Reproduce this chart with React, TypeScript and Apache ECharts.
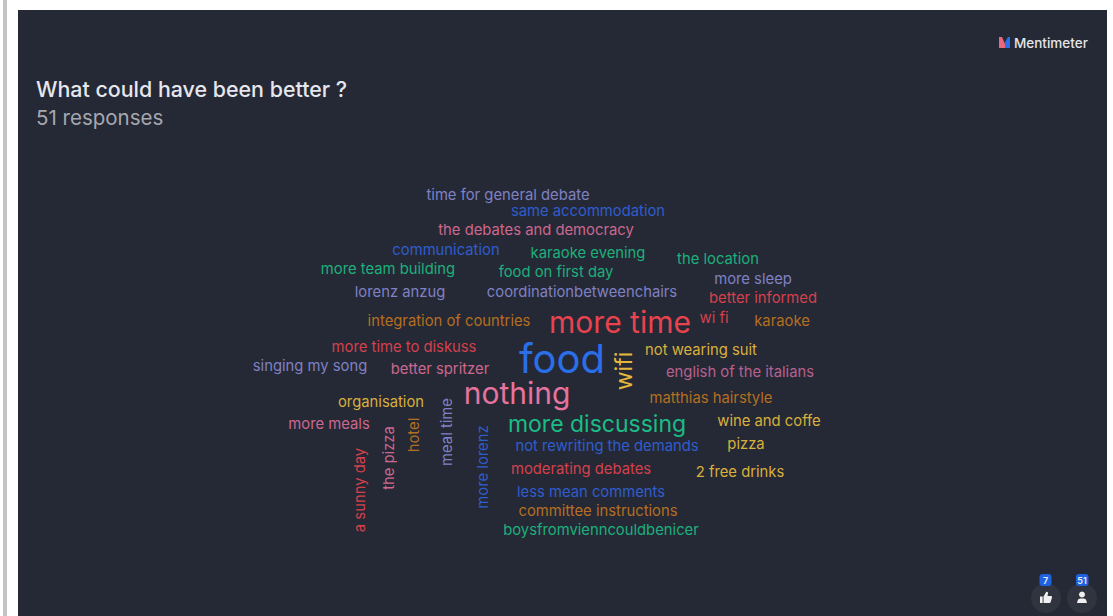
import React, { useEffect, useRef } from "react";
import * as echarts from "echarts";

const FONT = "Inter";
const WIDTH = 1113;
const HEIGHT = 616;

const words = [
  "time for general debate", "same accommodation", "the debates and democracy", "communication",
  "karaoke evening", "the location", "more team building", "food on first day", "more sleep",
  "lorenz anzug", "coordinationbetweenchairs", "better informed", "integration of countries",
  "more time", "wi fi", "karaoke", "more time to diskuss", "food", "wifi", "not wearing suit",
  "singing my song", "better spritzer", "english of the italians", "nothing", "organisation",
  "matthias hairstyle", "meal time", "more meals", "hotel", "the pizza", "wine and coffe",
  "more discussing", "not rewriting the demands", "pizza", "a sunny day", "more lorenz",
  "moderating debates", "2 free drinks", "less mean comments", "committee instructions",
  "boysfromvienncouldbenicer",
];
const weights = [
  1, 1, 1, 1, 1, 1, 1, 1, 1, 1, 1, 1, 1, 3, 1, 1, 1, 4, 2, 1, 1, 1, 1, 3, 1, 1, 1, 1, 1, 1, 1, 2, 1, 1,
  1, 1, 1, 1, 1, 1, 1,
];
const cloudX = [
  508, 588, 536, 446, 588, 718, 388, 556, 753, 400, 582, 763, 449, 620, 714, 782, 404, 562, 625, 701,
  310, 440, 740, 517, 381, 711, 448, 329, 415, 390, 769, 597, 607, 746, 361, 484, 581, 740, 591, 598, 601,
];
const cloudY = [
  195, 211, 230, 250, 253, 259, 269, 272, 279, 292, 292, 298, 321, 322, 318, 321, 347, 358, 371, 350,
  366, 369, 372, 393, 402, 398, 432, 424, 435, 458, 421, 424, 446, 444, 490, 467, 469, 472, 492, 511, 530,
];
const verticalWords = ["wifi", "meal time", "hotel", "the pizza", "a sunny day", "more lorenz"];

const LAV = "#7f81c4", BLUE = "#2f5dcc", PINK = "#cc688e", GREEN = "#1cb07c", RED = "#d4414c",
  ORANGE = "#b56f20", YELLOW = "#d9b03c";
const wordColors = [
  LAV, BLUE, PINK, BLUE, GREEN, GREEN, GREEN, GREEN, LAV, LAV, LAV, RED, ORANGE, "#e8434e", RED, ORANGE,
  RED, "#2a6fe8", "#e3b63c", YELLOW, LAV, PINK, "#b9608f", "#e6739e", YELLOW, ORANGE, LAV, PINK, ORANGE,
  PINK, YELLOW, "#1bbd85", BLUE, YELLOW, RED, BLUE, RED, YELLOW, BLUE, ORANGE, GREEN,
];
const sizeByWeight: Record<number, number> = { 1: 14.8, 2: 23, 3: 30, 4: 40 };

const THUMB =
  "M0 6 H3 V14 H0 Z M4 6 L7 0.5 C8.5 0.2 9.5 1.2 9 3 L8.5 5.5 H12.5 C13.8 5.5 14 7 13.5 8 L12 13 C11.7 13.8 11 14 10.5 14 H4 Z";

export default function App() {
  const ref = useRef<HTMLDivElement>(null);
  useEffect(() => {
    document.body.style.margin = "0";
    echarts.graphic.registerShape("thumbIcon", echarts.graphic.extendPath(THUMB, {}) as any);
    const chart = echarts.init(ref.current!, null, { renderer: "svg" });
    chart.setOption({
      animation: false,
      backgroundColor: "#ffffff",
      textStyle: { fontFamily: FONT },
      title: [
        {
          text: "What could have been better ?", left: 31, top: 73,
          textStyle: { color: "#e6e7ee", fontSize: 21.4, fontWeight: 500, fontFamily: FONT },
        },
        {
          text: "51 responses", left: 31, top: 102,
          textStyle: { color: "#a6a8b0", fontSize: 20.5, fontWeight: 400, fontFamily: FONT },
        },
      ],
      grid: { left: 0, right: 0, top: 0, bottom: 0 },
      xAxis: { type: "value", min: 0, max: WIDTH, show: false },
      yAxis: { type: "value", min: 0, max: HEIGHT, inverse: true, show: false },
      series: [
        {
          type: "scatter",
          symbolSize: 1,
          itemStyle: { color: "transparent", opacity: 1 },
          silent: true,
          data: words.map((w, i) => ({
            name: w,
            value: [cloudX[i] - (verticalWords.includes(w) ? 1 : 0), cloudY[i], weights[i]],
            label: {
              show: true,
              position: "inside",
              formatter: w,
              align: "center",
              verticalAlign: "middle",
              rotate: verticalWords.includes(w) ? 90 : 0,
              fontSize: sizeByWeight[weights[i]],
              fontFamily: FONT,
              color: wordColors[i],
            },
          })),
        },
      ],
      graphic: [
        { type: "rect", z: -10, shape: { x: 3, y: 0, width: 4, height: HEIGHT }, style: { fill: "#c4c4c4" } },
        { type: "rect", z: -10, shape: { x: 18, y: 10, width: 1089, height: 606 }, style: { fill: "#252935" } },
        { type: "polygon", z: 5, shape: { points: [[999, 37], [1002, 37], [1005, 44], [1005, 48], [999, 48]] }, style: { fill: "#e8697f" } },
        { type: "polygon", z: 5, shape: { points: [[1010, 37], [1008, 37], [1005, 42], [1005, 48], [1010, 48]] }, style: { fill: "#2a6fe8" } },
        {
          type: "text", z: 5, x: 1014, y: 43,
          style: { text: "Mentimeter", fill: "#e4e5ea", fontSize: 13.5, fontWeight: 500, fontFamily: FONT, verticalAlign: "middle" },
        },
        { type: "circle", z: 5, shape: { cx: 1046, cy: 598, r: 15 }, style: { fill: "#30343f" } },
        { type: "circle", z: 5, shape: { cx: 1082, cy: 598, r: 15 }, style: { fill: "#30343f" } },
        { type: "thumbIcon", z: 6, x: 1040, y: 591.5, scaleX: 0.88, scaleY: 0.82, style: { fill: "#f0f0f2" } },
        { type: "circle", z: 6, shape: { cx: 1082, cy: 594.5, r: 3 }, style: { fill: "#f0f0f2" } },
        { type: "polygon", z: 6, shape: { points: [[1077, 603], [1078, 599.5], [1080, 598.5], [1084, 598.5], [1086, 599.5], [1087, 603]] }, style: { fill: "#f0f0f2" } },
        { type: "rect", z: 7, shape: { x: 1039.5, y: 574, width: 12, height: 12, r: 3 }, style: { fill: "#1f62e0" } },
        { type: "rect", z: 7, shape: { x: 1076, y: 574, width: 12.5, height: 12, r: 3 }, style: { fill: "#1f62e0" } },
        { type: "text", z: 8, x: 1045.5, y: 580, style: { text: "7", fill: "#e8eefc", fontSize: 9, fontWeight: 600, fontFamily: FONT, align: "center", verticalAlign: "middle" } },
        { type: "text", z: 8, x: 1082, y: 580, style: { text: "51", fill: "#e8eefc", fontSize: 9, fontWeight: 600, fontFamily: FONT, align: "center", verticalAlign: "middle" } },
      ],
    });
    return () => chart.dispose();
  }, []);
  return <div ref={ref} style={{ width: WIDTH, height: HEIGHT, position: "absolute", left: 0, top: 0 }} />;
}
